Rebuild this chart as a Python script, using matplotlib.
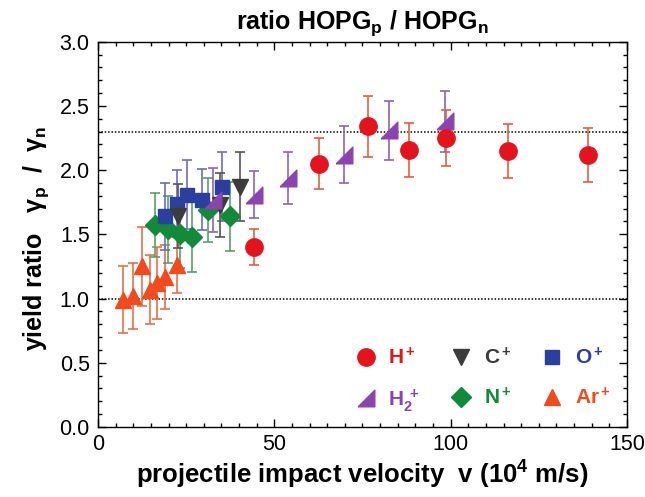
import matplotlib
matplotlib.use("Agg")
import matplotlib.pyplot as plt
from matplotlib.ticker import MultipleLocator, FormatStrFormatter
from matplotlib.lines import Line2D

plt.rcParams['font.family'] = ['Liberation Sans', 'DejaVu Sans']
plt.rcParams['mathtext.fontset'] = 'custom'
plt.rcParams['mathtext.rm'] = 'Liberation Sans'
plt.rcParams['mathtext.bf'] = 'Liberation Sans:bold'
plt.rcParams['mathtext.it'] = 'Liberation Sans:italic'

# ---- data ----
h_v = [44.2, 62.7, 76.6, 88.3, 98.7, 116.3, 139.0]
h_r = [1.40, 2.05, 2.34, 2.16, 2.25, 2.15, 2.12]
h_e = [0.14, 0.20, 0.24, 0.21, 0.22, 0.21, 0.21]

h2_v = [32.7, 44.2, 54.0, 69.7, 82.6, 98.4]
h2_r = [1.77, 1.81, 1.94, 2.12, 2.31, 2.38]
h2_e = [0.25, 0.18, 0.20, 0.22, 0.23, 0.24]

c_v = [22.8, 34.6, 40.3]
c_r = [1.64, 1.73, 1.87]
c_e = [0.25, 0.25, 0.27]

o_v = [19.0, 22.3, 25.1, 29.4, 35.1]
o_r = [1.64, 1.74, 1.81, 1.77, 1.87]
o_e = [0.26, 0.26, 0.27, 0.24, 0.27]

n_v = [16.2, 19.9, 23.2, 26.6, 31.3, 37.4]
n_r = [1.57, 1.54, 1.50, 1.48, 1.69, 1.64]
n_e = [0.25, 0.26, 0.26, 0.27, 0.25, 0.27]

ar_v = [7.2, 10.0, 12.4, 14.7, 16.6, 19.0, 22.5]
ar_r = [0.99, 1.02, 1.25, 1.07, 1.12, 1.17, 1.26]
ar_e = [0.26, 0.26, 0.31, 0.27, 0.28, 0.25, 0.22]

ref_lines = [1.0, 2.3]

tri_marker = [(-1, -1), (1, -1), (1, 1), (-1, -1)]

series = [
    # v, r, e, marker, face colour, err colour, size, label
    (ar_v, ar_r, ar_e, '^', '#f04a1e', '#e8704c', 12, r'$\mathbf{Ar^+}$'),
    (n_v, n_r, n_e, 'D', '#13893a', '#5a9e6a', 10, r'$\mathbf{N^+}$'),
    (o_v, o_r, o_e, 's', '#2a3f9e', '#6a70b8', 10.5, r'$\mathbf{O^+}$'),
    (c_v, c_r, c_e, 'v', '#3c3c3c', '#555555', 12, r'$\mathbf{C^+}$'),
    (h2_v, h2_r, h2_e, tri_marker, '#8a44b0', '#9064b0', 12, r'$\mathbf{H_2^{\ +}}$'),
    (h_v, h_r, h_e, 'o', '#e4141e', '#e06040', 12.5, r'$\mathbf{H^+}$'),
]

fig = plt.figure(figsize=(6.45, 4.97), dpi=100)
ax = fig.add_axes([0.152, 0.141, 0.820, 0.775])

handles = {}
for v, r, e, m, fc, ec, ms, lab in series:
    ax.errorbar(v, r, yerr=e, fmt='none', ecolor=ec, elinewidth=1.2,
                capsize=3.5, capthick=1.2, zorder=2)
    ax.plot(v, r, linestyle='none', marker=m, markersize=ms,
            markerfacecolor=fc, markeredgecolor=fc, zorder=3)
    handles[lab] = Line2D([], [], linestyle='none', marker=m, markersize=ms,
                          markerfacecolor=fc, markeredgecolor=fc)

for y in ref_lines:
    ax.axhline(y, color='black', linestyle=(0, (1.0, 1.2)), linewidth=1.1, zorder=1)

ax.set_xlim(0, 150)
ax.set_ylim(0, 3.0)
ax.xaxis.set_major_locator(MultipleLocator(50))
ax.xaxis.set_minor_locator(MultipleLocator(5))
ax.yaxis.set_major_locator(MultipleLocator(0.5))
ax.yaxis.set_minor_locator(MultipleLocator(0.1))
ax.yaxis.set_major_formatter(FormatStrFormatter('%.1f'))
ax.tick_params(which='both', direction='in', top=True, right=True, width=1)
ax.tick_params(which='major', length=6, labelsize=15.5)
ax.tick_params(axis='x', which='major', pad=5)
ax.tick_params(axis='y', which='major', pad=6)
ax.tick_params(which='minor', length=3)
for s in ax.spines.values():
    s.set_linewidth(1)

ax.set_title(r'ratio HOPG$_\mathbf{p}$ / HOPG$_\mathbf{n}$', fontsize=18,
             fontweight='bold', pad=9)
ax.set_xlabel(r'projectile impact velocity  v (10$^\mathbf{4}$ m/s)', fontsize=18.5,
              fontweight='bold', labelpad=3)
ax.set_ylabel(r'yield ratio   γ$_\mathbf{p}$  /  γ$_\mathbf{n}$', fontsize=18,
              fontweight='bold')
ax.yaxis.set_label_coords(-0.088, 0.49)

order = [r'$\mathbf{H^+}$', r'$\mathbf{H_2^{\ +}}$', r'$\mathbf{C^+}$',
         r'$\mathbf{N^+}$', r'$\mathbf{O^+}$', r'$\mathbf{Ar^+}$']
colors = {r'$\mathbf{H^+}$': '#e4141e', r'$\mathbf{H_2^{\ +}}$': '#8a44b0',
          r'$\mathbf{C^+}$': '#3c3c3c', r'$\mathbf{N^+}$': '#13893a',
          r'$\mathbf{O^+}$': '#2a3f9e', r'$\mathbf{Ar^+}$': '#f04a1e'}
leg = ax.legend([handles[k] for k in order], order, ncol=3, frameon=False,
                loc='lower right', bbox_to_anchor=(1.005, -0.014),
                fontsize=15, handletextpad=0.5, columnspacing=1.35,
                labelspacing=0.89, handlelength=1.2)
for t, k in zip(leg.get_texts(), order):
    t.set_color(colors[k])

fig.savefig('out.png', dpi=100)
